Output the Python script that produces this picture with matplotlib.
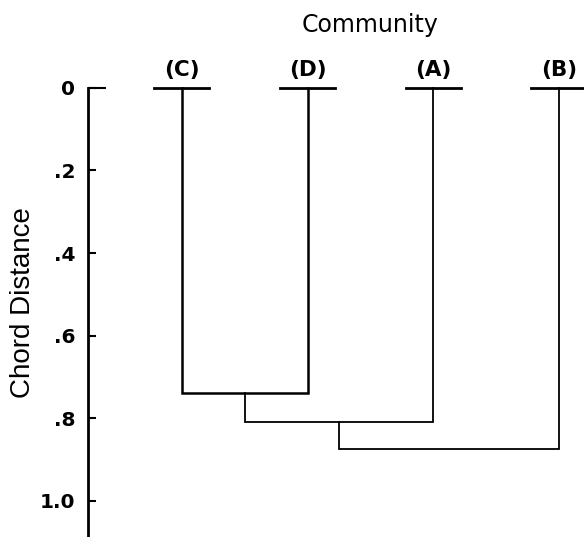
import matplotlib
matplotlib.use('Agg')
from matplotlib import pyplot as plt

plt.rcParams['font.family'] = ['DejaVu Sans']

# leaves in plotting order and the merges (left node, right node, height)
leaves = ['(C)', '(D)', '(A)', '(B)']
merge_left = [0, 4, 5]
merge_right = [1, 2, 3]
merge_height = [0.74, 0.81, 0.875]
tick_vals = [0, 0.2, 0.4, 0.6, 0.8, 1.0]
tick_labels = ['0', '.2', '.4', '.6', '.8', '1.0']

fig = plt.figure(figsize=(5.84, 5.37), dpi=100)
ax = fig.add_axes([88/584, 0, 1 - 88/584, 1])

# node positions: leaves first, then each merge
xs = [i + 1 for i in range(len(leaves))]
hs = [0.0] * len(leaves)
for k in range(len(merge_height)):
    l, r, h = merge_left[k], merge_right[k], merge_height[k]
    lw = 1.8 if k == 0 else 1.3
    ax.plot([xs[l], xs[l], xs[r], xs[r]], [hs[l], h, h, hs[r]],
            color='black', lw=lw, solid_joinstyle='miter')
    xs.append((xs[l] + xs[r]) / 2)
    hs.append(h)

for i, name in enumerate(leaves):
    ax.plot([xs[i] - 0.22, xs[i] + 0.22], [0, 0], color='black', lw=2)
    ax.annotate(name, (xs[i], 0), xytext=(0, 6), textcoords='offset points',
                ha='center', va='bottom', fontsize=15.5, fontweight='bold')

ax.set_xlim(0.254, 4.198)
ax.set_ylim(1.088, -0.213)
for s in ['top', 'right', 'bottom']:
    ax.spines[s].set_visible(False)
ax.spines['left'].set_bounds(0, 1.088)
ax.spines['left'].set_linewidth(2)
ax.set_xticks([])
ax.set_yticks(tick_vals)
ax.set_yticklabels(tick_labels, fontsize=14.5, fontweight='bold')
ax.tick_params(axis='y', direction='in', length=6, width=1.5, pad=9)
# longer corner tick at 0
ax.yaxis.remove_overlapping_locs = False
ax.set_yticks([0], minor=True)
ax.tick_params(axis='y', which='minor', direction='in', length=13, width=1.5)

fig.text(370/584, 1 - 25/537, 'Community', ha='center', va='center', fontsize=17)
fig.text(23/584, 1 - 303/537, 'Chord Distance', ha='center', va='center',
         rotation=90, fontsize=20, family='Liberation Sans')

fig.savefig('out.png', dpi=100)
